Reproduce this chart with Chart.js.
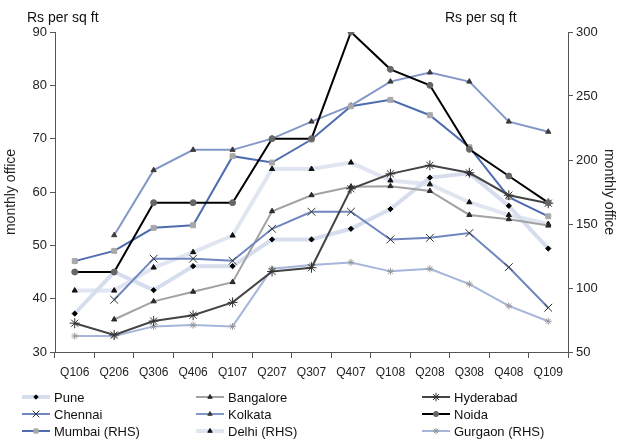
<!DOCTYPE html>
<html lang="en">
<head>
<meta charset="UTF-8">
<title>Office rents by city</title>
<script src="https://cdn.jsdelivr.net/npm/chart.js"></script>
<style>
  body { margin: 0; background: #fff; }
  #wrap { width: 619px; height: 444px; }
</style>
</head>
<body>
<div id="wrap"><canvas id="rents" width="619" height="444"></canvas></div>
<script>
// quarters on the x axis
const quarters = ['Q106', 'Q206', 'Q306', 'Q406', 'Q107', 'Q207', 'Q307', 'Q407', 'Q108', 'Q208', 'Q308', 'Q408', 'Q109'];

// left axis cities (Rs per sq ft, monthly)
const pune      = [37.2, 45.0, 41.6, 46.1, 46.1, 51.1, 51.1, 53.1, 56.8, 62.7, 63.5, 57.4, 49.4];
const bangalore = [null, 36.1, 39.5, 41.3, 43.1, 56.4, 59.4, 61.0, 61.1, 60.2, 55.7, 54.9, 53.7];
const hyderabad = [35.4, 33.2, 35.8, 36.9, 39.3, 45.1, 45.8, 60.6, 63.4, 65.0, 63.6, 59.4, 57.9];
const chennai   = [null, 39.8, 47.5, 47.5, 47.1, 53.1, 56.3, 56.3, 51.1, 51.4, 52.3, 45.9, 38.3];
const kolkata   = [null, 51.9, 64.1, 67.9, 67.9, 70.0, 73.2, 76.2, 80.7, 82.4, 80.7, 73.2, 71.3];
const noida     = [45.0, 45.0, 58.0, 58.0, 58.0, 70.0, 70.0, 90.0, 83.0, 80.0, 68.0, 63.0, 58.0];

// right axis cities
const mumbai  = [121, 129, 147, 149, 203, 198, 216, 242, 247, 235, 210, 171, 156];
const delhi   = [98, 98, 116, 128, 141, 193, 193, 198, 184, 181, 167, 157, 150];
const gurgaon = [62.5, 62.5, 70, 71, 70, 115, 118, 120, 113, 115, 103, 86, 74];

const yTicks = { min: 30, max: 90, step: 10 };
const y1Ticks = { min: 50, max: 300, step: 50 };

Chart.defaults.font.family = '"Liberation Sans", Arial, sans-serif';
Chart.defaults.color = '#222';

function series(label, data, axis, line, width, style, radius, pointColor, order) {
    return {
        label: label,
        data: data,
        yAxisID: axis,
        borderColor: line,
        borderWidth: width,
        pointStyle: style,
        pointRadius: radius,
        pointBackgroundColor: pointColor,
        pointBorderColor: pointColor,
        pointBorderWidth: 1,
        tension: 0,
        fill: false,
        order: order
    };
}

const datasets = [
    series('Pune', pune, 'y', '#d6deee', 4, 'rectRot', 2.6, '#000', 8),
    series('Bangalore', bangalore, 'y', '#a2a2a2', 2, 'triangle', 3, '#2a2a2a', 5),
    series('Hyderabad', hyderabad, 'y', '#444', 2, 'star', 5, '#333', 2),
    series('Chennai', chennai, 'y', '#6f86bf', 2, 'crossRot', 5.5, '#333', 3),
    series('Kolkata', kolkata, 'y', '#8398c9', 2, 'triangle', 3, '#3a3a3a', 6),
    series('Noida', noida, 'y', '#000', 2, 'circle', 3, '#666', 1),
    series('Mumbai (RHS)', mumbai, 'y1', '#4f6caf', 2, 'rect', 3.5, '#a8a8a8', 4),
    series('Delhi (RHS)', delhi, 'y1', '#e0e6f1', 4, 'triangle', 3, '#111', 9),
    series('Gurgaon (RHS)', gurgaon, 'y1', '#a6b5da', 2, 'star', 3.5, '#999', 7)
];

// fixed three-column legend and the unit labels over both axes
const extras = {
    id: 'extras',
    afterDraw(chart) {
        const ctx = chart.ctx;
        ctx.save();
        ctx.fillStyle = '#111';
        ctx.font = '14px "Liberation Sans", Arial, sans-serif';
        ctx.textBaseline = 'alphabetic';
        ctx.textAlign = 'left';
        ctx.fillText('Rs per sq ft', 27, 22);
        ctx.fillText('Rs per sq ft', 445, 22);

        const cols = [22, 196, 422];
        const rows = [397, 414, 431];
        ctx.font = '13px "Liberation Sans", Arial, sans-serif';
        ctx.textBaseline = 'middle';
        chart.data.datasets.forEach((ds, i) => {
            const x = cols[i % 3];
            const y = rows[Math.floor(i / 3)];
            ctx.strokeStyle = ds.borderColor;
            ctx.lineWidth = ds.borderWidth;
            ctx.beginPath();
            ctx.moveTo(x, y);
            ctx.lineTo(x + 28, y);
            ctx.stroke();
            ctx.fillStyle = ds.pointBackgroundColor;
            ctx.strokeStyle = ds.pointBorderColor;
            ctx.lineWidth = 1;
            Chart.helpers.drawPoint(ctx, {
                pointStyle: ds.pointStyle,
                radius: ds.pointRadius * 0.85,
                rotation: 0,
                borderWidth: 1
            }, x + 14, y);
            ctx.fillStyle = '#111';
            ctx.fillText(ds.label, x + 32, y + 1);
        });
        ctx.restore();
    }
};

const axisColor = '#555';

new Chart(document.getElementById('rents'), {
    type: 'line',
    data: { labels: quarters, datasets: datasets },
    options: {
        responsive: false,
        animation: false,
        devicePixelRatio: 1,
        layout: { padding: { top: 32, left: 0, right: 0, bottom: 0 } },
        plugins: {
            legend: { display: false },
            tooltip: { enabled: false }
        },
        scales: {
            x: {
                offset: true,
                grid: { drawOnChartArea: false, offset: true, tickLength: 6, color: axisColor },
                border: { color: axisColor, width: 1 },
                ticks: { autoSkip: false, maxRotation: 0, padding: 7, font: { size: 12 } },
                afterFit(scale) { scale.height = 92; }
            },
            y: {
                position: 'left',
                min: yTicks.min,
                max: yTicks.max,
                ticks: { stepSize: yTicks.step, padding: 3, font: { size: 13 } },
                grid: { drawOnChartArea: false, tickLength: 5, color: axisColor },
                border: { color: axisColor, width: 1 },
                title: { display: true, text: 'monthly office', font: { size: 14 }, padding: 3 },
                afterFit(scale) { scale.width = 55; }
            },
            y1: {
                position: 'right',
                min: y1Ticks.min,
                max: y1Ticks.max,
                ticks: { stepSize: y1Ticks.step, padding: 3, font: { size: 13 } },
                grid: { drawOnChartArea: false, tickLength: 5, color: axisColor },
                border: { color: axisColor, width: 1 },
                title: { display: true, text: 'monthly office', font: { size: 14 }, padding: 2 },
                afterFit(scale) { scale.width = 51; }
            }
        }
    },
    plugins: [extras]
});
</script>
</body>
</html>
